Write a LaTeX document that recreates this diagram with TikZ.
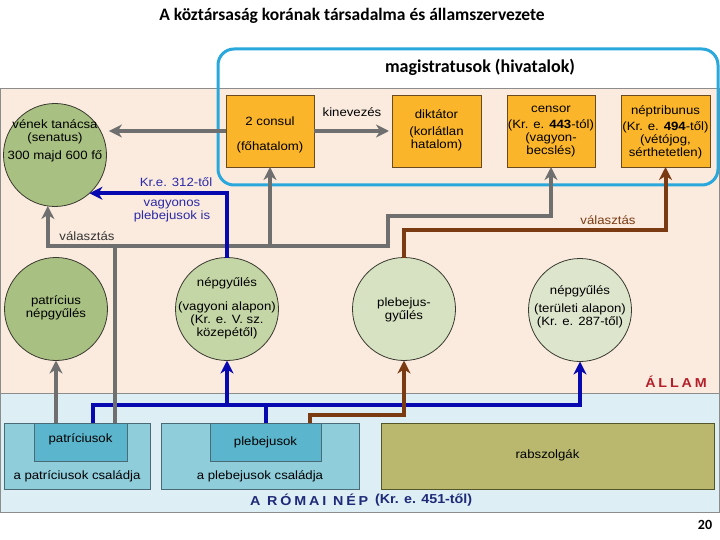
\documentclass[tikz,border=0pt]{standalone}
\usepackage{fontspec}
\setmainfont{Liberation Sans}[FakeStretch=1.1]
\newfontfamily\titlefont{Carlito}
\newfontfamily\spacedfont{Liberation Sans}[FakeStretch=1.1,LetterSpace=22]
\usetikzlibrary{arrows.meta}
\definecolor{beige}{HTML}{FBEBDF}
\definecolor{lightband}{HTML}{DDEEF5}
\definecolor{framegray}{HTML}{8C8C8C}
\definecolor{orangebox}{HTML}{FBB52B}
\definecolor{oborder}{HTML}{6B4A1F}
\definecolor{greenA}{HTML}{A8C081}
\definecolor{greenB}{HTML}{C4D5A6}
\definecolor{greenC}{HTML}{D6E2C1}
\definecolor{greenD}{HTML}{DDE6CD}
\definecolor{cborder}{HTML}{3A3A30}
\definecolor{arrgray}{HTML}{6F6F6F}
\definecolor{arrblue}{HTML}{0808B0}
\definecolor{txtblue}{HTML}{2A2AA6}
\definecolor{arrbrown}{HTML}{7A3A12}
\definecolor{magblue}{HTML}{2AA8DC}
\definecolor{outerbox}{HTML}{8FCDDB}
\definecolor{innerbox}{HTML}{5BB5CC}
\definecolor{bborder}{HTML}{4A6A75}
\definecolor{rabfill}{HTML}{B9B86E}
\definecolor{rabborder}{HTML}{55552A}
\definecolor{allamred}{HTML}{B4202A}
\definecolor{nepnavy}{HTML}{1E2A78}
\begin{document}
\begin{tikzpicture}[x=1pt,y=-1pt,
  every node/.style={inner sep=0pt, outer sep=0pt, align=center,
    font=\fontsize{12}{13}\selectfont},
  circ/.style={circle, draw=cborder, line width=0.8pt, minimum size=103pt},
  obox/.style={draw=oborder, fill=orangebox, line width=0.8pt,
    minimum width=88pt, minimum height=72pt},
  outbox/.style={draw=bborder, fill=outerbox, line width=0.8pt, minimum height=66pt},
  inbox/.style={draw=bborder, fill=innerbox, line width=0.8pt, minimum height=38pt},
  tip/.style={-{Stealth[length=13pt,width=13pt,inset=4pt]}},
  gline/.style={draw=arrgray, line width=4pt},
  garrow/.style={gline, tip},
  bline/.style={draw=arrblue, line width=4pt},
  barrow/.style={bline, tip},
  brarrow/.style={draw=arrbrown, line width=4pt, tip},
  magframe/.style={draw=magblue, line width=3pt, rounded corners=16pt}
]
\useasboundingbox (0,0) rectangle (720,540);
\fill[white] (0,0) rectangle (720,540);

% title
\node (title) at (352,16) {\titlefont\bfseries\fontsize{17.5}{19}\selectfont A köztársaság korának társadalma és államszervezete};
\node (pagenum) at (705,525) {\titlefont\bfseries\fontsize{14}{16}\selectfont 20};

% background bands
\fill[beige] (0,89) rectangle (719,393);
\fill[lightband] (0,393) rectangle (719,512);
\draw[framegray, line width=0.6pt] (0,393) -- (719,393);
\draw[framegray, line width=1pt] (0.5,89) rectangle (719,512);

% magistratus frame
\draw[magframe] (218,49) rectangle (718,185);
\node (magtitle) at (480,67) {\titlefont\bfseries\fontsize{18}{19}\selectfont magistratusok (hivatalok)};

% upper boxes
\node[obox] (consul) at (270,131) {};
\node[obox, minimum width=89pt] (dikt) at (436.5,131) {};
\node[obox] (censor) at (551,131) {};
\node[obox, minimum width=89pt] (neptrib) at (665.5,131) {};
\node (consult) at (270,135) {2 consul\\[12pt](főhatalom)};
\node (diktt) at (436.5,130) {\fontsize{12}{14}\selectfont diktátor\\[4pt](korlátlan\\hatalom)};
\node (censort) at (551,132) {censor\\[3pt](Kr. e. \textbf{443}-tól)\\(vagyon-\\becslés)};
\node (neptribt) at (665.5,132) {néptribunus\\[3pt](Kr. e. \textbf{494}-től)\\(vétójog,\\sérthetetlen)};

% circles
\node[circ, fill=greenA] (sen) at (55,155) {};
\node[circ, fill=greenA] (pc) at (56,309) {};
\node[circ, fill=greenB] (ng1) at (227,309) {};
\node[circ, fill=greenC] (pg) at (404,309) {};
\node[circ, fill=greenD] (ng2) at (580,310) {};
\node (sent) at (55,140.5) {\fontsize{12}{14.5}\selectfont vének tanácsa\\(senatus)\\[5pt]300 majd 600 fő};
\node (pct) at (56,307.5) {patrícius\\népgyűlés};
\node (ng1t) at (227,308) {népgyűlés\\[11pt](vagyoni alapon)\\(Kr. e. V. sz.\\közepétől)};
\node (pgt) at (404,309.5) {plebejus-\\gyűlés};
\node (ng2t) at (580,307) {népgyűlés\\[5pt](területi alapon)\\(Kr. e. 287-től)};

% lower boxes
\node[outbox, minimum width=146pt] (patout) at (77,456) {};
\node[inbox, minimum width=93pt] (patin) at (80.5,442) {};
\node[outbox, minimum width=198pt] (plebout) at (260,456) {};
\node[inbox, minimum width=111pt] (plebin) at (265.5,442) {};
\node[draw=rabborder, fill=rabfill, line width=0.8pt, minimum width=333pt, minimum height=66pt] (rab) at (547.5,456) {};
\node (patint) at (80.5,439) {patríciusok};
\node (patoutt) at (77,476) {a patríciusok családja};
\node (plebint) at (265.5,442) {plebejusok};
\node (pleboutt) at (260,476) {a plebejusok családja};
\node (rabt) at (547.5,455) {rabszolgák};

% band labels
\node (allam) at (676,382) {\spacedfont\bfseries\fontsize{13}{14}\selectfont\color{allamred}ÁLLAM};
\node[anchor=west] (romai) at (250,500) {\spacedfont\bfseries\fontsize{13}{14}\selectfont\color{nepnavy}A RÓMAI NÉP};
\node[anchor=west] (romaikr) at (375,500) {\bfseries\fontsize{13}{14}\selectfont\color{nepnavy}(Kr. e. 451-től)};

% coordinates for connectors
\coordinate (jA) at (115,246);
\coordinate (jB) at (388,246);
\coordinate (jC) at (388,216);
\coordinate (bh) at (500,230);
\coordinate (bb) at (93,405);
\coordinate (bl) at (350,415);

% blue lower network
\draw[barrow] (patin.north -| bb) -- (bb) -| (ng2.south);
\draw[bline] (plebin.north) -- (plebin.north |- bb);
\draw[barrow] (ng1.south |- bb) -- (ng1.south);

% gray network
\draw[garrow] (patin.north -| jA) -- (jA) -- (jB) -- (jC) -| (censor.south);
\draw[garrow] (jA) -| (sen.-98);
\draw[garrow] (consul.south |- jA) -- (consul.south);
\draw[garrow] (pc.south |- patin.north) -- (pc.south);
\draw[garrow, shorten >=8pt] (consul.west) -- (consul.west -| sen.27);
\draw[garrow, shorten >=3pt] (consul.east) -- (dikt.west);

% blue upper arrow
\draw[barrow] (ng1.north) |- (sen.-48);

% brown arrows
\draw[brarrow] (pg.north) |- (bh) -| (neptrib.south);
\draw[brarrow] ([xshift=-11pt]plebin.north east) |- (bl) -| (pg.south);

% connector labels
\node (kinev) at (352,112) {kinevezés};
\node[text=txtblue] (kr312) at (176,182) {Kr.e. 312-től};
\node[text=txtblue] (vagy) at (172,211) {vagyonos\\plebejusok is};
\node[text=black!80] (val1) at (87,236) {választás};
\node[text=arrbrown] (val2) at (608,220) {választás};
\end{tikzpicture}
\end{document}
